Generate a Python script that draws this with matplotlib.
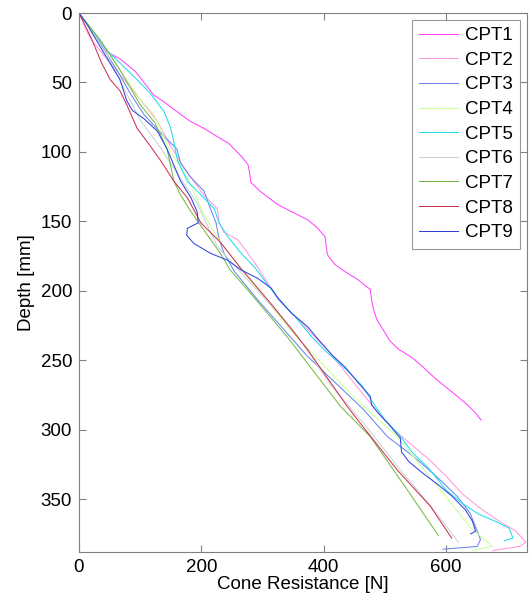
import matplotlib
matplotlib.use("Agg")
import matplotlib.pyplot as plt

plt.rcParams['font.family'] = ['Liberation Sans', 'DejaVu Sans']

# cone resistance [N] vs depth [mm]
cpt1_x = [0, 20, 46, 67, 92, 108, 122, 139, 160, 182, 204, 226, 245, 265, 276, 278, 281, 295, 325, 352, 374, 388, 402,
          404, 406, 418, 434, 456, 467, 476, 478, 481, 487, 497, 508, 522, 544, 560, 577, 593, 610, 632, 648, 657]
cpt1_y = [0, 12, 28, 33, 42, 51, 59, 64, 71, 78, 83, 89, 94, 103, 109, 113, 122, 128, 138, 144, 149, 154, 161,
          168, 174, 181, 186, 192, 196, 199, 206, 213, 221, 228, 236, 242, 248, 254, 261, 267, 273, 281, 288, 293]

cpt2_x = [0, 18, 51, 89, 128, 150, 171, 204, 226, 229, 237, 259, 281, 292, 325, 352, 407, 489, 517, 544,
          571, 599, 626, 654, 687, 714, 730, 720, 676]
cpt2_y = [0, 18, 36, 56, 78, 96, 111, 131, 141, 151, 158, 163, 176, 183, 206, 218, 243, 288, 301, 311,
          321, 333, 346, 356, 366, 373, 381, 384, 387]

cpt3_x = [0, 29, 62, 84, 106, 133, 160, 166, 182, 204, 215, 224, 229, 237, 254, 291, 373, 464, 504, 546,
          585, 618, 639, 656, 651, 595]
cpt3_y = [0, 18, 41, 58, 73, 86, 98, 108, 118, 128, 141, 151, 163, 173, 186, 206, 247, 285, 305, 319,
          334, 348, 360, 379, 384, 386]

cpt4_x = [0, 34, 67, 100, 122, 133, 150, 181, 203, 231, 290, 345, 448, 520, 590, 639, 675, 643]
cpt4_y = [0, 19, 41, 62, 73, 83, 100, 122, 144, 165, 198, 228, 276, 305, 343, 370, 384, 387]

cpt5_x = [0, 48, 67, 95, 117, 139, 150, 155, 161, 177, 204, 221, 229, 243, 265, 287, 309, 330, 352, 380,
          402, 435, 462, 484, 500, 522, 544, 572, 599, 626, 654, 681, 703, 709, 695]
cpt5_y = [0, 28, 36, 48, 58, 71, 83, 93, 106, 121, 133, 141, 151, 161, 173, 183, 196, 208, 218, 233,
          243, 256, 268, 283, 293, 303, 316, 328, 343, 353, 361, 366, 371, 378, 380]

cpt6_x = [0, 40, 100, 130, 154, 193, 226, 290, 350, 410, 470, 525, 575, 620]
cpt6_y = [0, 25, 77, 95, 111, 137, 168, 199, 228, 267, 298, 329, 355, 381]

cpt7_x = [0, 34, 67, 100, 124, 144, 155, 166, 183, 199, 231, 247, 275, 340, 427, 476, 536, 587]
cpt7_y = [0, 19, 41, 66, 79, 98, 121, 131, 143, 153, 173, 185, 199, 233, 283, 305, 343, 376]

cpt8_x = [0, 20, 37, 51, 67, 78, 95, 117, 133, 155, 177, 199, 231, 263, 317, 373, 438, 459, 520, 574, 609]
cpt8_y = [0, 18, 36, 48, 56, 66, 83, 96, 106, 121, 133, 151, 165, 183, 211, 242, 283, 295, 329, 355, 378]

cpt9_x = [0, 13, 37, 67, 78, 87, 106, 128, 144, 166, 183, 193, 195, 177, 176, 188, 215, 243, 265, 292, 314,
          325, 347, 374, 391, 413, 435, 456, 476, 478, 489, 506, 525, 527, 539, 561, 588, 610, 632, 643,
          648, 640]
cpt9_y = [0, 8, 26, 48, 63, 70, 76, 85, 98, 121, 133, 143, 151, 155, 160, 166, 173, 178, 185, 191, 198,
          205, 216, 226, 235, 246, 255, 266, 276, 282, 288, 296, 306, 316, 323, 331, 340, 348, 358, 366,
          373, 375]

labels = ['CPT1', 'CPT2', 'CPT3', 'CPT4', 'CPT5', 'CPT6', 'CPT7', 'CPT8', 'CPT9']
colors = ['#ff44ff', '#ff99dd', '#6688ee', '#ccff99', '#22ddee',
          '#c8d4d4', '#77bb44', '#cc3355', '#3344dd']

series = [(cpt1_x, cpt1_y), (cpt2_x, cpt2_y), (cpt3_x, cpt3_y),
          (cpt4_x, cpt4_y), (cpt5_x, cpt5_y), (cpt6_x, cpt6_y),
          (cpt7_x, cpt7_y), (cpt8_x, cpt8_y), (cpt9_x, cpt9_y)]

fig = plt.figure(figsize=(5.29, 6.03), dpi=100)
ax = fig.add_axes([0.1493, 0.0846, 0.8469, 0.8938])

for (x, y), lab, c in zip(series, labels, colors):
    ax.plot(x, y, color=c, lw=0.75, label=lab)

ax.set_xlim(0, 732)
ax.set_ylim(388, 0)
ax.set_xticks([0, 200, 400, 600])
ax.set_yticks(range(0, 351, 50))

fs = 13.5
ax.set_xlabel('Cone Resistance [N]', fontsize=fs, labelpad=0)
ax.set_ylabel('Depth [mm]', fontsize=fs, labelpad=4)
ax.tick_params(direction='in', length=5, width=0.8, color='#808080',
               labelsize=fs, top=True, right=True, pad=5)
for s in ax.spines.values():
    s.set_color('#808080')
    s.set_linewidth(0.8)

leg = ax.legend(loc='upper right', fontsize=fs, fancybox=False,
                borderaxespad=0.35, handlelength=2.1, handletextpad=0.35,
                labelspacing=0.4, borderpad=0.4)
leg.get_frame().set_edgecolor('#808080')
leg.get_frame().set_linewidth(0.8)

fig.savefig('out.png', dpi=100)
